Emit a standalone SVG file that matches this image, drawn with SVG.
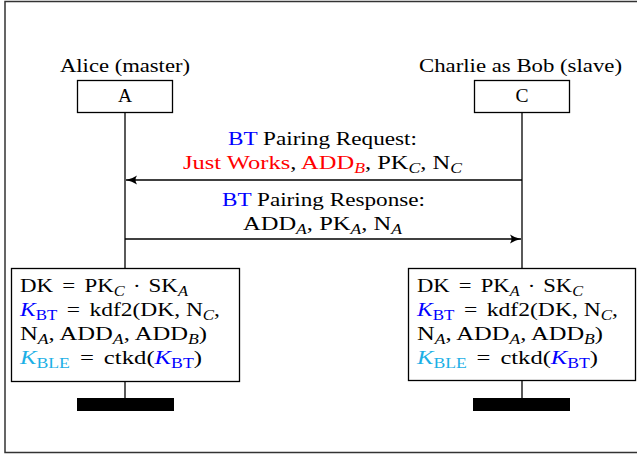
<svg xmlns="http://www.w3.org/2000/svg" width="637" height="455" viewBox="0 0 637 455">
<style>
text{font-family:"Liberation Serif","DejaVu Serif",serif;font-size:19.5px;fill:#000}
.sub{font-size:14px}
.it{font-style:italic}
.blue{fill:#0000ff}
.red{fill:#ff0000}
.cyan{fill:#1cb0e6}
.box{fill:#fff;stroke:#000;stroke-width:1.3}
.life{stroke:#000;stroke-width:1.3;fill:none}
.bar{fill:#000}
</style>
<defs>
<marker id="ah" viewBox="0 0 12 10" refX="11" refY="5" markerWidth="12" markerHeight="10" markerUnits="userSpaceOnUse" orient="auto">
<path d="M0,0.5 Q5,4 11,5 Q5,6 0,9.5 Q3,5 0,0.5Z" fill="#000"/>
</marker>
</defs>
<rect x="5" y="1.5" width="640" height="451" fill="none" stroke="#333" stroke-width="1.5"/>
<g id="lifelines">
<line class="life" x1="125" y1="113" x2="125" y2="268"/>
<line class="life" x1="125" y1="382" x2="125" y2="398"/>
<line class="life" x1="522" y1="113" x2="522" y2="268"/>
<line class="life" x1="522" y1="381" x2="522" y2="398"/>
</g>
<g id="alice">
<text x="60" y="72" textLength="130" lengthAdjust="spacingAndGlyphs">Alice (master)</text>
<rect class="box" x="77.5" y="80.5" width="95" height="32"/>
<text x="125" y="102" text-anchor="middle">A</text>
</g>
<g id="charlie">
<text x="419" y="72" textLength="203" lengthAdjust="spacingAndGlyphs">Charlie as Bob (slave)</text>
<rect class="box" x="474.5" y="80.5" width="95" height="32"/>
<text x="522" y="102" text-anchor="middle">C</text>
</g>
<g id="connectors">
<line class="life" x1="522" y1="180" x2="126" y2="180" marker-end="url(#ah)"/>
<line class="life" x1="125" y1="239" x2="521" y2="239" marker-end="url(#ah)"/>
</g>
<g id="msg1">
<text x="228" y="145" textLength="189" lengthAdjust="spacingAndGlyphs"><tspan class="blue">BT</tspan> Pairing Request:</text>
<text x="183" y="169" textLength="279" lengthAdjust="spacingAndGlyphs"><tspan class="red">Just Works</tspan>, <tspan class="red">ADD<tspan class="sub it" dy="4">B</tspan></tspan><tspan dy="-4">, PK</tspan><tspan class="sub it" dy="4">C</tspan><tspan dy="-4">, N</tspan><tspan class="sub it" dy="4">C</tspan></text>
</g>
<g id="msg2">
<text x="222" y="206" textLength="203" lengthAdjust="spacingAndGlyphs"><tspan class="blue">BT</tspan> Pairing Response:</text>
<text x="243" y="230" textLength="159" lengthAdjust="spacingAndGlyphs">ADD<tspan class="sub it" dy="4">A</tspan><tspan dy="-4">, PK</tspan><tspan class="sub it" dy="4">A</tspan><tspan dy="-4">, N</tspan><tspan class="sub it" dy="4">A</tspan></text>
</g>
<g id="alice-action">
<rect class="box" x="11.5" y="268.5" width="228" height="113"/>
<text x="20" y="292" textLength="168" lengthAdjust="spacingAndGlyphs">DK <tspan dx="3">=</tspan><tspan dx="3"> PK</tspan><tspan class="sub it" dy="4">C</tspan><tspan dy="-4" dx="2"> · </tspan><tspan dx="2">SK</tspan><tspan class="sub it" dy="4">A</tspan></text>
<text x="20" y="316" textLength="200" lengthAdjust="spacingAndGlyphs"><tspan class="blue it">K</tspan><tspan class="blue sub" dy="4">BT</tspan><tspan dy="-4" dx="3"> = </tspan><tspan dx="3">kdf2(DK, N</tspan><tspan class="sub it" dy="4">C</tspan><tspan dy="-4">,</tspan></text>
<text x="20" y="340" textLength="187" lengthAdjust="spacingAndGlyphs">N<tspan class="sub it" dy="4">A</tspan><tspan dy="-4">, ADD</tspan><tspan class="sub it" dy="4">A</tspan><tspan dy="-4">, ADD</tspan><tspan class="sub it" dy="4">B</tspan><tspan dy="-4">)</tspan></text>
<text x="20" y="364" textLength="182" lengthAdjust="spacingAndGlyphs"><tspan class="cyan it">K</tspan><tspan class="cyan sub" dy="4">BLE</tspan><tspan dy="-4" dx="3"> = </tspan><tspan dx="3">ctkd(</tspan><tspan class="blue it">K</tspan><tspan class="blue sub" dy="4">BT</tspan><tspan dy="-4">)</tspan></text>
</g>
<g id="charlie-action">
<rect class="box" x="408.5" y="268.5" width="227" height="112"/>
<text x="417" y="292" textLength="166" lengthAdjust="spacingAndGlyphs">DK <tspan dx="3">=</tspan><tspan dx="3"> PK</tspan><tspan class="sub it" dy="4">A</tspan><tspan dy="-4" dx="2"> · </tspan><tspan dx="2">SK</tspan><tspan class="sub it" dy="4">C</tspan></text>
<text x="417" y="316" textLength="201" lengthAdjust="spacingAndGlyphs"><tspan class="blue it">K</tspan><tspan class="blue sub" dy="4">BT</tspan><tspan dy="-4" dx="3"> = </tspan><tspan dx="3">kdf2(DK, N</tspan><tspan class="sub it" dy="4">C</tspan><tspan dy="-4">,</tspan></text>
<text x="417" y="340" textLength="186" lengthAdjust="spacingAndGlyphs">N<tspan class="sub it" dy="4">A</tspan><tspan dy="-4">, ADD</tspan><tspan class="sub it" dy="4">A</tspan><tspan dy="-4">, ADD</tspan><tspan class="sub it" dy="4">B</tspan><tspan dy="-4">)</tspan></text>
<text x="417" y="364" textLength="181" lengthAdjust="spacingAndGlyphs"><tspan class="cyan it">K</tspan><tspan class="cyan sub" dy="4">BLE</tspan><tspan dy="-4" dx="3"> = </tspan><tspan dx="3">ctkd(</tspan><tspan class="blue it">K</tspan><tspan class="blue sub" dy="4">BT</tspan><tspan dy="-4">)</tspan></text>
</g>
<g id="alice-end"><rect class="bar" x="77" y="398" width="97" height="13"/></g>
<g id="charlie-end"><rect class="bar" x="473" y="398" width="97" height="13"/></g>
</svg>
